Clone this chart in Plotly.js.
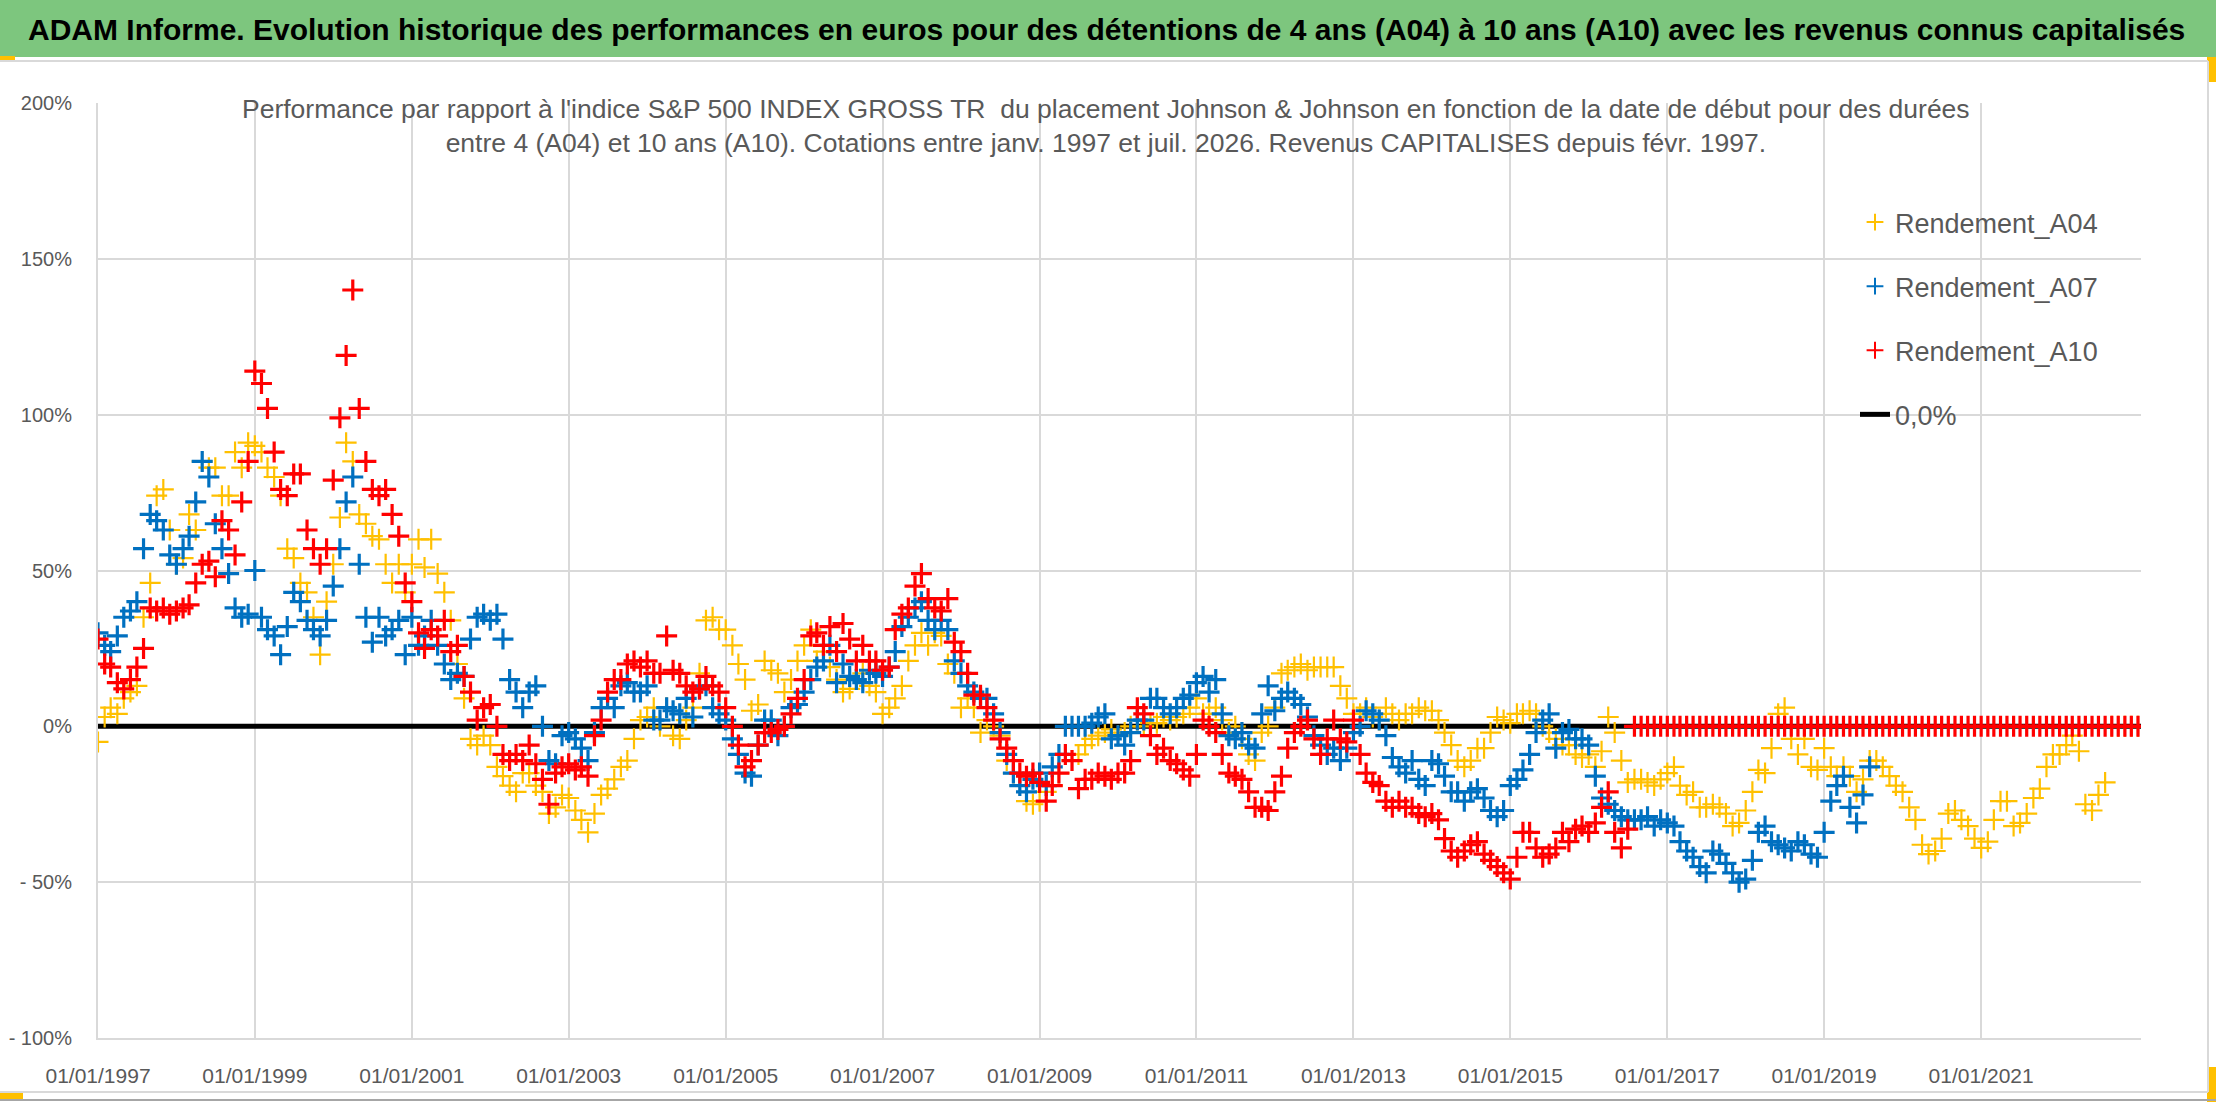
<!DOCTYPE html>
<html>
<head>
<meta charset="utf-8">
<script src="https://cdn.plot.ly/plotly-3.0.1.min.js"></script>
<style>
  html, body { margin: 0; padding: 0; background: #fff; }
  #chart { width: 2216px; height: 1102px; }
</style>
</head>
<body>
<div id="chart"></div>
<script>
// monthly readings (in %), first value = January 1997

const rendementA04 = [
  -5, 3, 6, 4, 9, 11, 13, 35, 46, 74, 76, 63,            // 1997
  52, 54, 68, 63, 85, 83, 83, 74, 74, 88, 83, 91,        // 1998
  90, 88, 83, 80, 74, 57, 54, 46, 43, 35, 23, 40,        // 1999
  52, 67, 91, 85, 68, 65, 61, 60, 52, 46, 52, 43,        // 2000
  52, 60, 51, 60, 49, 43, 34, 20, 9, -4, -6, -3,         // 2001
  -6, -13, -16, -19, -21, -15, -15, -19, -21, -28, -26, -22,  // 2002
  -23, -27, -30, -34, -28, -22, -20, -17, -13, -11, -4, 2,    // 2003
  3, 6, 0, 6, -3, -4, 2, 6, 17, 34, 35, 31,              // 2004
  31, 26, 20, 15, 5, 7, 21, 18, 17, 11, 15, 21,          // 2005
  26, 31, 21, 24, 19, 15, 11, 12, 15, 17, 13, 11,        // 2006
  4, 6, 9, 13, 21, 26, 30, 26, 30, 29, 20, 17,           // 2007
  6, 9, 6, -2, 2, 0, -3, -11, -15, -19, -24, -25,        // 2008
  -24, -21, -19, -15, -9, -11, -9, -6, -4, -3, -2, -1,   // 2009
  -3, -2, 0, 2, 0, 1, 1, 3, 2, 3, 4, 6,                  // 2010
  9, 4, 4, 6, 2, -2, 0, -4, -9, -11, -2, 0,              // 2011
  6, 17, 18, 19, 20, 18, 19, 19, 19, 19, 13, 9,          // 2012
  4, 4, 6, 3, 2, 6, 4, 2, 4, 4, 6, 5,                    // 2013
  5, 2, -2, -6, -11, -13, -11, -7, -7, -2, 3, 2,         // 2014
  1, 4, 4, 5, 4, 0, -2, -4, -6, -6, -9, -10,             // 2015
  -9, -13, -8, 3, -2, -11, -18, -17, -17, -18, -19, -17, // 2016
  -15, -13, -19, -22, -21, -26, -26, -25, -26, -28, -32, -31, // 2017
  -27, -21, -14, -15, -7, 4, 6, -4, -9, -4, -13, -14,    // 2018
  -7, -13, -16, -13, -16, -21, -17, -11, -11, -13, -16, -19,  // 2019
  -21, -26, -30, -38, -41, -40, -36, -28, -27, -30, -32, -36, // 2020
  -39, -37, -30, -24, -24, -32, -31, -28, -23, -20, -13, -9,  // 2021
  -9, -6, -3, -8, -25, -27, -22, -18, 0, 0, 0, 0,        // 2022
  0                                                      // 2023
];

const rendementA07 = [
  30, 26, 24, 29, 35, 37, 40, 57, 68, 66, 63, 55,        // 1997
  52, 57, 61, 72, 85, 80, 65, 57, 49, 38, 35, 36,        // 1998
  50, 35, 31, 29, 23, 32, 43, 40, 34, 31, 29, 34,        // 1999
  45, 57, 72, 80, 52, 35, 27, 35, 29, 31, 34, 23,        // 2000
  35, 26, 29, 34, 26, 20, 15, 17, 16, 28, 35, 36,        // 2001
  34, 36, 28, 15, 11, 6, 11, 13, 0, -11, -12, -3,        // 2002
  -2, -4, -7, -11, -2, 6, 9, 6, 13, 14, 11, 11,          // 2003
  13, 2, 2, 6, 5, 4, 9, 3, 12, 13, 6, 4,                 // 2004
  2, -4, -9, -15, -16, -6, 2, 2, -3, 0, 6, 7,            // 2005
  11, 15, 19, 21, 26, 14, 20, 16, 15, 14, 18, 17,        // 2006
  16, 19, 24, 32, 35, 38, 40, 34, 31, 34, 31, 21,        // 2007
  17, 13, 11, 9, 9, 4, -2, -9, -15, -19, -21, -17,       // 2008
  -15, -19, -13, -9, 0, 0, 0, 0, 1, 3, 4, -4,            // 2009
  -3, -6, -2, 2, 2, 9, 9, 6, 4, 6, 9, 10,                // 2010
  14, 16, 11, 15, 4, -3, -4, -2, -6, -7, 4, 13,          // 2011
  5, 9, 11, 9, 7, 3, -3, -6, -9, -7, -11, -7,            // 2012
  -2, 0, 5, 4, 2, -3, -10, -13, -15, -11, -17, -19,      // 2013
  -11, -12, -16, -21, -21, -24, -21, -20, -23, -27, -29, -27, // 2014
  -19, -17, -14, -9, -2, 2, 4, -7, -2, -1, -4, -4,       // 2015
  -6, -16, -23, -25, -27, -29, -30, -30, -30, -29, -32, -30,  // 2016
  -31, -32, -37, -40, -42, -45, -47, -40, -41, -44, -47, -50, // 2017
  -49, -43, -34, -32, -37, -38, -39, -40, -37, -38, -41, -42, // 2018
  -34, -24, -19, -16, -26, -31, -22, -13                 // 2019
];

const rendementA10 = [
  28, 20, 19, 14, 12, 15, 19, 25, 38, 37, 38, 36,        // 1997
  37, 38, 39, 46, 52, 53, 48, 66, 63, 55, 72, 85,        // 1998
  114, 110, 102, 88, 76, 74, 81, 81, 63, 57, 52, 57,     // 1999
  79, 99, 119, 140, 102, 85, 76, 74, 76, 68, 61, 46,     // 2000
  40, 30, 25, 31, 29, 34, 24, 26, 16, 11, 2, 6,          // 2001
  7, 0, -9, -11, -9, -11, -6, -12, -17, -25, -15, -13,   // 2002
  -12, -14, -13, -16, -3, 2, 11, 15, 15, 20, 21, 19,     // 2003
  21, 17, 17, 29, 18, 17, 13, 11, 12, 16, 13, 11,        // 2004
  6, 0, -6, -13, -11, -6, -2, -2, -1, 0, 4, 9,           // 2005
  15, 29, 30, 26, 32, 24, 33, 28, 21, 26, 21, 21,        // 2006
  18, 19, 31, 36, 38, 45, 49, 41, 38, 37, 41, 27,        // 2007
  24, 17, 10, 10, 6, 2, -4, -7, -11, -15, -16, -15,      // 2008
  -18, -24, -19, -15, -9, -11, -20, -17, -17, -15, -16, -17,  // 2009
  -15, -15, -11, 6, 4, -3, -9, -7, -11, -12, -14, -16,   // 2010
  -9, 2, 0, -2, -9, -15, -16, -17, -21, -26, -26, -27,   // 2011
  -21, -16, -7, -2, 0, 2, -4, -9, -4, 2, -4, -5,         // 2012
  2, -9, -15, -18, -19, -24, -26, -24, -26, -26, -28, -29,    // 2013
  -28, -30, -36, -40, -42, -40, -38, -37, -41, -43, -45, -47, // 2014
  -49, -42, -34, -34, -39, -42, -41, -39, -34, -37, -33, -32, // 2015
  -34, -31, -26, -21, -34, -39, -33, 0, 0, 0, 0, 0,      // 2016
  0, 0, 0, 0, 0, 0, 0, 0, 0, 0, 0, 0,                    // 2017
  0, 0, 0, 0, 0, 0, 0, 0, 0, 0, 0, 0,                    // 2018
  0, 0, 0, 0, 0, 0, 0, 0, 0, 0, 0, 0,                    // 2019
  0, 0, 0, 0, 0, 0, 0, 0, 0, 0, 0, 0,                    // 2020
  0, 0, 0, 0, 0, 0, 0, 0, 0, 0, 0, 0,                    // 2021
  0, 0, 0, 0, 0, 0, 0, 0, 0, 0, 0, 0,                    // 2022
  0                                                      // 2023
];

const zeroLineDates = ['1997-01-01', '2023-01-15'];
const zeroLineValues = [0, 0];

const xTickVals = ['1997-01-01', '1999-01-01', '2001-01-01', '2003-01-01', '2005-01-01', '2007-01-01',
                   '2009-01-01', '2011-01-01', '2013-01-01', '2015-01-01', '2017-01-01', '2019-01-01', '2021-01-01'];
const xTickText = ['01/01/1997', '01/01/1999', '01/01/2001', '01/01/2003', '01/01/2005', '01/01/2007',
                   '01/01/2009', '01/01/2011', '01/01/2013', '01/01/2015', '01/01/2017', '01/01/2019', '01/01/2021'];
const yTickVals = [-100, -50, 0, 50, 100, 150, 200];
const yTickText = ['- 100%', '- 50%', '0%', '50%', '100%', '150%', '200%'];

// month dates for the series, starting january 1997
function monthSeq(n) {
  const out = [];
  for (let i = 0; i < n; i++) {
    const yy = 1997 + Math.floor(i / 12);
    const mm = (i % 12) + 1;
    out.push(yy + '-' + String(mm).padStart(2, '0') + '-01');
  }
  return out;
}

const FONT = "'Liberation Sans', Arial, sans-serif";
const W = 2216, H = 1102;
const M = { l: 98, r: 75, t: 103, b: 64 };
const plotW = W - M.l - M.r, plotH = H - M.t - M.b;
// pixel -> paper coords
const px = x => (x - M.l) / plotW;
const py = y => (H - M.b - y) / plotH;

function crossTrace(name, values, color, lw, rank) {
  return {
    x: monthSeq(values.length),
    y: values,
    type: 'scatter',
    mode: 'markers',
    name: name,
    legendgroup: name,
    legendrank: rank,
    marker: { symbol: 'cross-thin', size: 15, color: color, line: { color: color, width: lw } },
    hoverinfo: 'skip'
  };
}

const traces = [
  {
    x: zeroLineDates, y: zeroLineValues, type: 'scatter', mode: 'lines', name: '0,0%',
    legendgroup: 'zero', legendrank: 4,
    line: { color: '#000000', width: 5 }, hoverinfo: 'skip'
  },
  crossTrace('Rendement_A04', rendementA04, '#FFC000', 2.2, 1),
  crossTrace('Rendement_A07', rendementA07, '#0070C0', 3.2, 2),
  crossTrace('Rendement_A10', rendementA10, '#FF0000', 3.2, 3)
];

function rect(x0, y0, x1, y1, fill, layer) {
  return { type: 'rect', xref: 'paper', yref: 'paper', x0: px(x0), x1: px(x1), y0: py(y1), y1: py(y0),
           fillcolor: fill, line: { width: 0 }, layer: layer || 'below' };
}
function hline(x0, x1, y, color, w) {
  return { type: 'line', xref: 'paper', yref: 'paper', x0: px(x0), x1: px(x1), y0: py(y), y1: py(y),
           line: { color: color, width: w } };
}
function vline(x, y0, y1, color, w) {
  return { type: 'line', xref: 'paper', yref: 'paper', x0: px(x), x1: px(x), y0: py(y0), y1: py(y1),
           line: { color: color, width: w } };
}

const layout = {
  width: W, height: H,
  paper_bgcolor: '#ffffff',
  plot_bgcolor: '#ffffff',
  margin: { l: M.l, r: M.r, t: M.t, b: M.b, pad: 0 },
  font: { family: FONT, color: '#595959' },
  showlegend: true,
  xaxis: {
    type: 'date',
    range: ['1997-01-01', '2023-01-15'],
    tickvals: xTickVals,
    ticktext: xTickText,
    showgrid: true, gridcolor: '#d9d9d9', gridwidth: 2,
    zeroline: false,
    showline: true, linecolor: '#d9d9d9', linewidth: 2,
    ticks: '',
    ticklabelstandoff: 18,
    tickfont: { family: FONT, size: 21, color: '#595959' }
  },
  yaxis: {
    range: [-100, 200],
    tickvals: yTickVals,
    ticktext: yTickText,
    showgrid: true, gridcolor: '#d9d9d9', gridwidth: 2,
    zeroline: false,
    showline: true, linecolor: '#d9d9d9', linewidth: 2,
    ticks: '',
    ticklabelstandoff: 20,
    tickfont: { family: FONT, size: 20, color: '#595959' }
  },
  legend: {
    x: px(1855), y: py(198), xanchor: 'left', yanchor: 'top',
    bgcolor: 'rgba(0,0,0,0)',
    font: { family: FONT, size: 27, color: '#595959' },
    traceorder: 'grouped',
    tracegroupgap: 26,
    itemwidth: 30,
    itemsizing: 'constant'
  },
  shapes: [
    rect(0, 0, W, 57, '#7dc67e'),
    rect(240, 75, 1971, 178, '#ffffff', 'between'),
    rect(1808, 193, 2141, 450, '#ffffff', 'between'),
    hline(0, 2208, 61, '#d9d9d9', 2),
    vline(2208, 61, 1092, '#d9d9d9', 2),
    hline(0, 2208, 1092, '#d9d9d9', 2),
    hline(0, W, 1100, '#a6a6a6', 2),
    rect(0, 56, 15, 61, '#FFC000'),
    rect(2207, 57, W, 82, '#FFC000'),
    rect(0, 1093, 23, 1100, '#FFC000'),
    rect(2207, 1067, W, H, '#FFC000')
  ],
  annotations: [
    {
      xref: 'paper', yref: 'paper', x: px(1106), y: py(29), xanchor: 'center', yanchor: 'middle',
      showarrow: false,
      text: 'ADAM Informe. Evolution historique des performances en euros pour des détentions de 4 ans (A04) à 10 ans (A10) avec les revenus connus capitalisés',
      font: { family: FONT, size: 30, color: '#000000', weight: 'bold' }
    },
    {
      xref: 'paper', yref: 'paper', x: px(1106), y: py(126), xanchor: 'center', yanchor: 'middle',
      showarrow: false, align: 'center',
      text: "Performance par rapport à l'indice S&P 500 INDEX GROSS TR  du placement Johnson & Johnson en fonction de la date de début pour des durées<br>entre 4 (A04) et 10 ans (A10). Cotations entre janv. 1997 et juil. 2026. Revenus CAPITALISES depuis févr. 1997.",
      font: { family: FONT, size: 26.5, color: '#595959' }
    }
  ]
};

Plotly.newPlot('chart', traces, layout, { displayModeBar: false, staticPlot: true });
</script>
</body>
</html>
